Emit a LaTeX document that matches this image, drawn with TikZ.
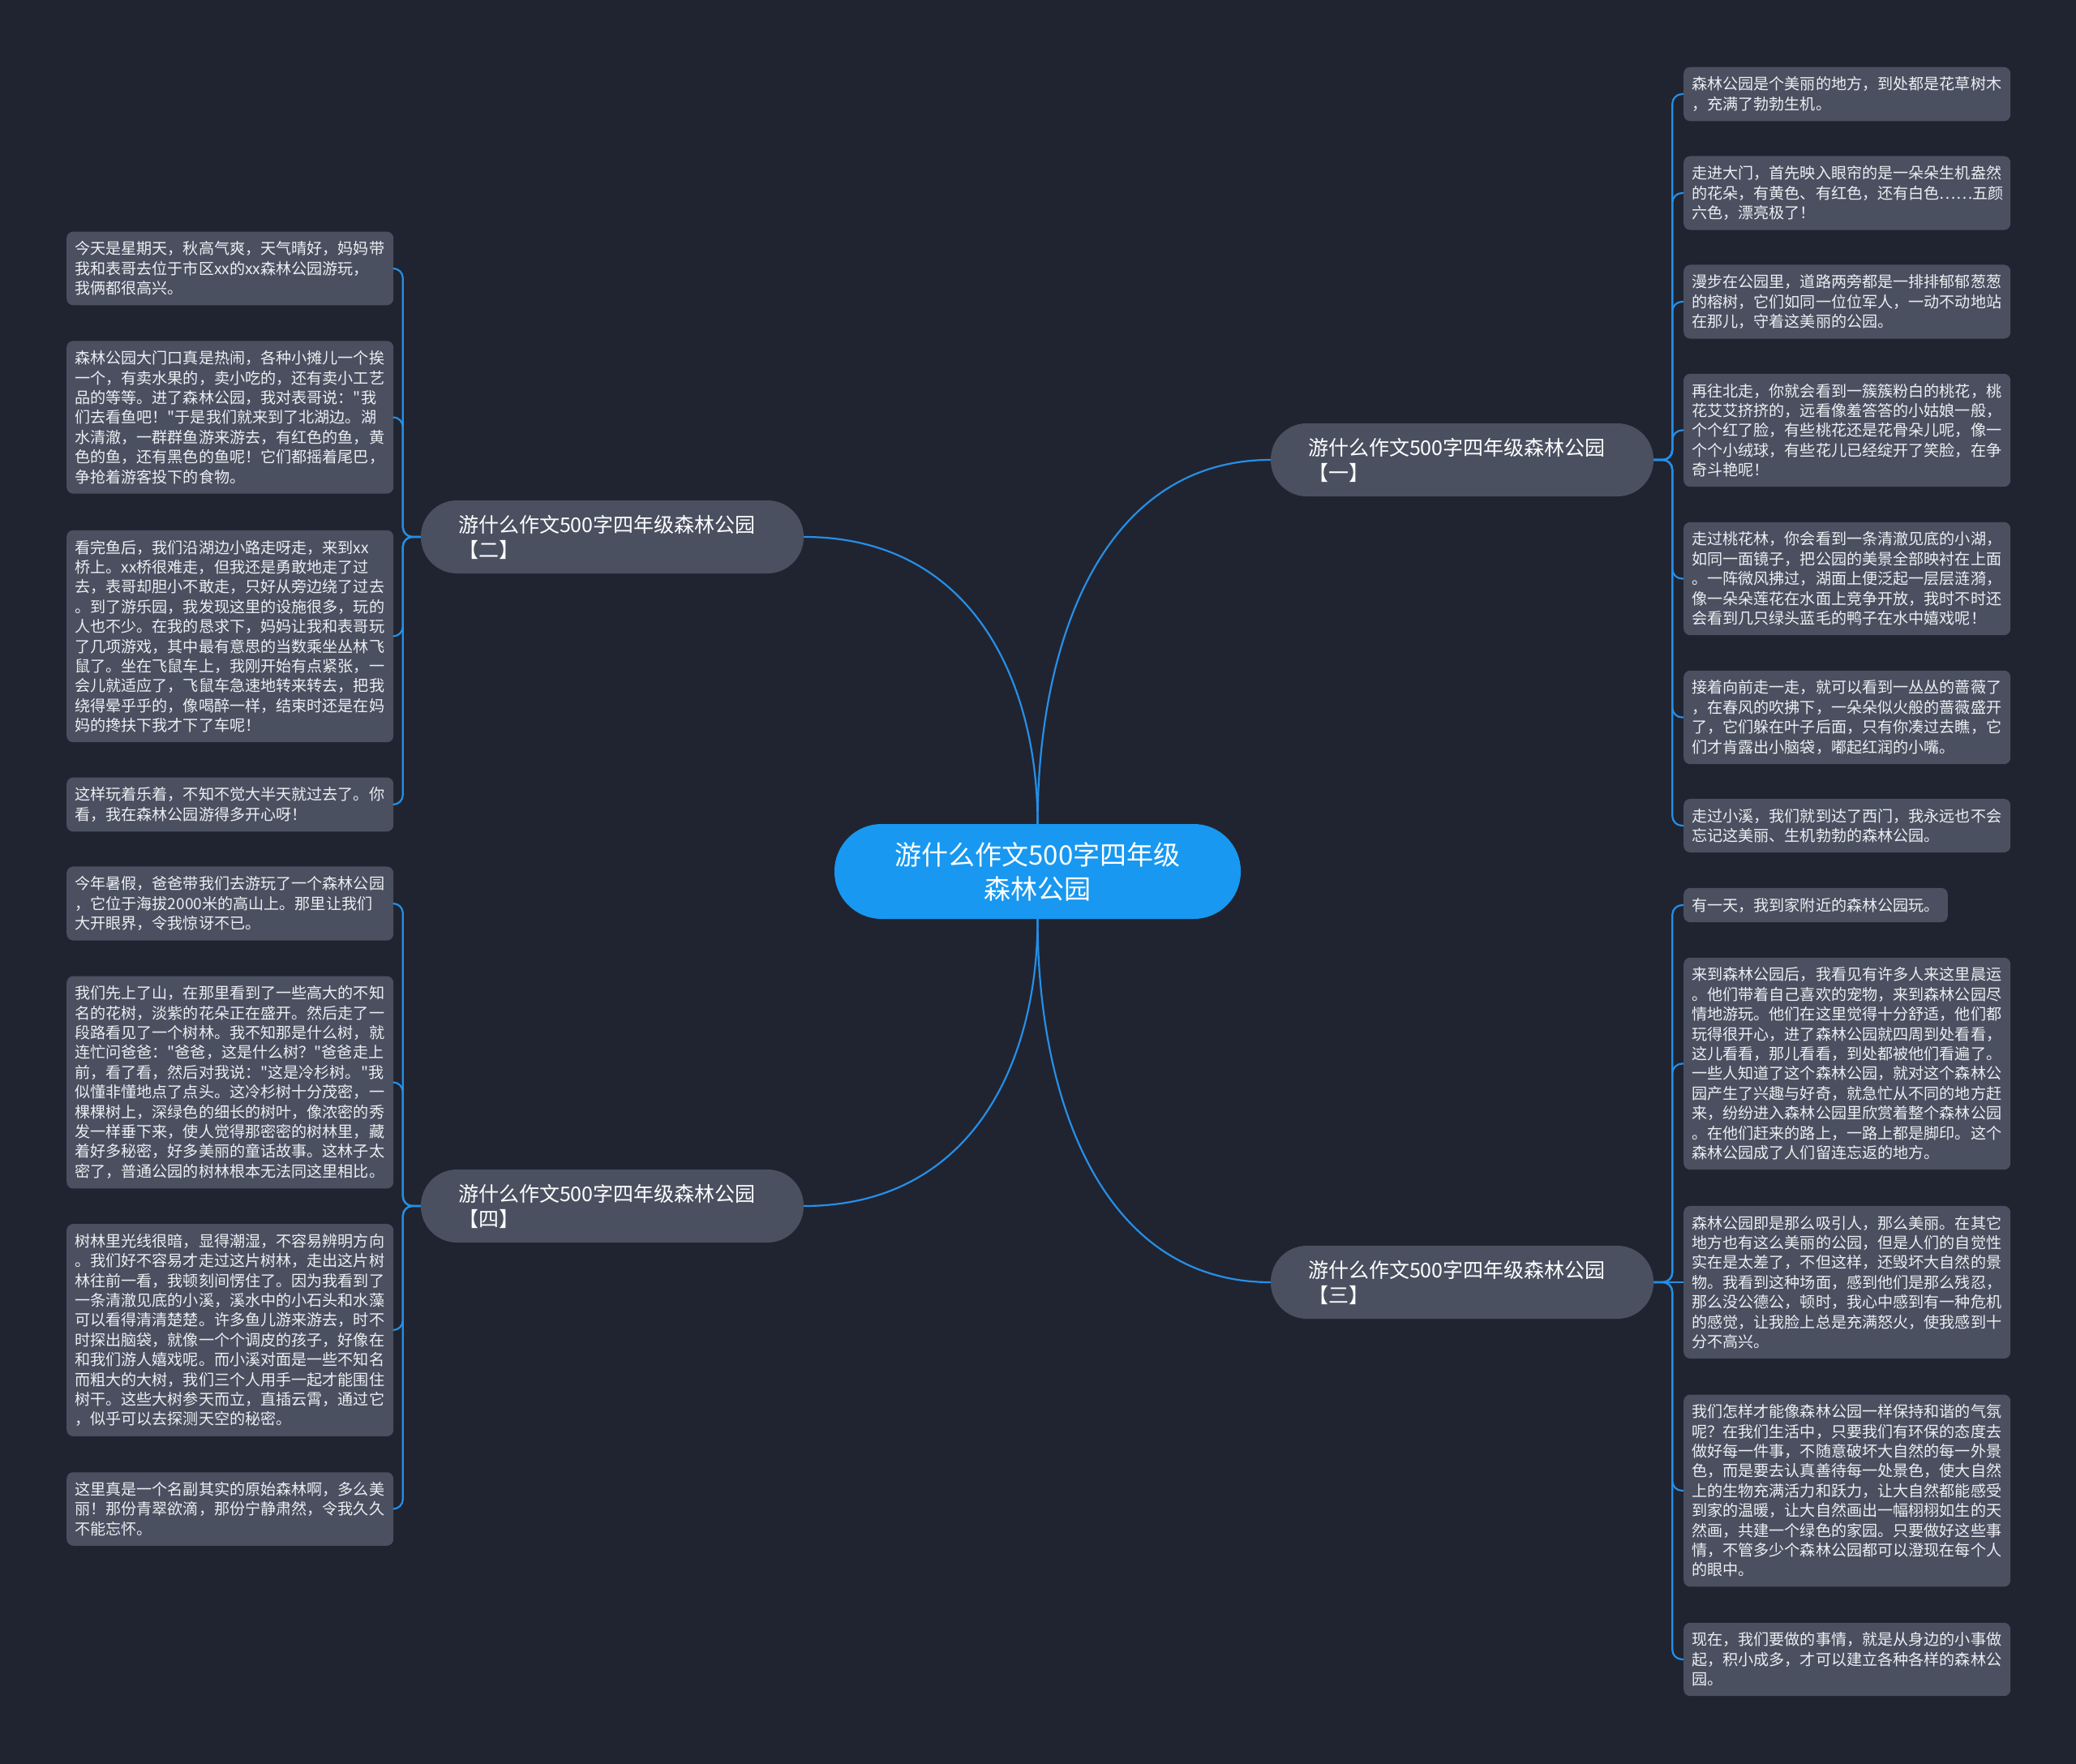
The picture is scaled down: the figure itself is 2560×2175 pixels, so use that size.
\documentclass[tikz,border=0pt]{standalone}
\usepackage{fontspec}
\setmainfont{Noto Sans CJK SC}[Ligatures=TeXOff]
\definecolor{bgc}{RGB}{32,36,49}
\definecolor{leafc}{RGB}{74,80,96}
\definecolor{linec}{RGB}{38,143,230}
\definecolor{rootc}{RGB}{24,152,240}
\definecolor{txtc}{RGB}{236,238,242}
\tikzset{
  leaf/.style={fill=leafc, rounded corners=8pt, inner xsep=10pt, inner ysep=12pt, text=txtc, align=left, text width=383pt, anchor=west, font=\fontsize{19.1pt}{24.4pt}\selectfont},
  shortleaf/.style={fill=leafc, rounded corners=8pt, inner xsep=10pt, inner ysep=12pt, text=txtc, align=left, anchor=west, font=\fontsize{19.1pt}{24.4pt}\selectfont},
  branch/.style={fill=leafc, rounded corners=44.5pt, minimum height=90pt, text width=380pt, inner xsep=46pt, inner ysep=0pt, align=left, text=white, font=\fontsize{25pt}{31pt}\selectfont},
  rootnode/.style={fill=rootc, rounded corners=58pt, minimum width=501pt, minimum height=117pt, align=center, text=white, font=\fontsize{33pt}{42pt}\selectfont},
  conn/.style={draw=linec, line width=2.2pt},
  elbow/.style={draw=linec, line width=2.2pt, rounded corners=12pt}
}
\begin{document}
\begin{tikzpicture}[x=1pt,y=-1pt]
\fill[bgc] (0,0) rectangle (2560,2175);
\useasboundingbox (0,0) rectangle (2560,2175);

% root
\node[rootnode] (root) at (1279.5,1074.5) {游什么作文500字四年级\\森林公园};

% branches
\node[branch] (b1) at (1803,567) {游什么作文500字四年级森林公园\\【一】};
\node[branch] (b2) at (755,662) {游什么作文500字四年级森林公园\\【二】};
\node[branch] (b3) at (1803,1581) {游什么作文500字四年级森林公园\\【三】};
\node[branch] (b4) at (755,1487) {游什么作文500字四年级森林公园\\【四】};

% right leaves, branch one
\node[leaf] (r1) at (2076,116) {森林公园是个美丽的地方，到处都是花草树木\\，充满了勃勃生机。};
\node[leaf] (r2) at (2076,238) {走进大门，首先映入眼帘的是一朵朵生机盎然\\的花朵，有黄色、有红色，还有白色……五颜\\六色，漂亮极了！};
\node[leaf] (r3) at (2076,372) {漫步在公园里，道路两旁都是一排排郁郁葱葱\\的榕树，它们如同一位位军人，一动不动地站\\在那儿，守着这美丽的公园。};
\node[leaf] (r4) at (2076,530.5) {再往北走，你就会看到一簇簇粉白的桃花，桃\\花艾艾挤挤的，远看像羞答答的小姑娘一般，\\个个红了脸，有些桃花还是花骨朵儿呢，像一\\个个小绒球，有些花儿已经绽开了笑脸，在争\\奇斗艳呢！};
\node[leaf] (r5) at (2076,713.5) {走过桃花林，你会看到一条清澈见底的小湖，\\如同一面镜子，把公园的美景全部映衬在上面\\。一阵微风拂过，湖面上便泛起一层层涟漪，\\像一朵朵莲花在水面上竞争开放，我时不时还\\会看到几只绿头蓝毛的鸭子在水中嬉戏呢！};
\node[leaf] (r6) at (2076,884.5) {接着向前走一走，就可以看到一丛丛的蔷薇了\\，在春风的吹拂下，一朵朵似火般的蔷薇盛开\\了，它们躲在叶子后面，只有你凑过去瞧，它\\们才肯露出小脑袋，嘟起红润的小嘴。};
\node[leaf] (r7) at (2076,1018) {走过小溪，我们就到达了西门，我永远也不会\\忘记这美丽、生机勃勃的森林公园。};

% right leaves, branch three
\node[shortleaf] (r8) at (2076,1116) {有一天，我到家附近的森林公园玩。};
\node[leaf] (r9) at (2076,1311.5) {来到森林公园后，我看见有许多人来这里晨运\\。他们带着自己喜欢的宠物，来到森林公园尽\\情地游玩。他们在这里觉得十分舒适，他们都\\玩得很开心，进了森林公园就四周到处看看，\\这儿看看，那儿看看，到处都被他们看遍了。\\一些人知道了这个森林公园，就对这个森林公\\园产生了兴趣与好奇，就急忙从不同的地方赶\\来，纷纷进入森林公园里欣赏着整个森林公园\\。在他们赶来的路上，一路上都是脚印。这个\\森林公园成了人们留连忘返的地方。};
\node[leaf] (r10) at (2076,1581) {森林公园即是那么吸引人，那么美丽。在其它\\地方也有这么美丽的公园，但是人们的自觉性\\实在是太差了，不但这样，还毁坏大自然的景\\物。我看到这种场面，感到他们是那么残忍，\\那么没公德公，顿时，我心中感到有一种危机\\的感觉，让我脸上总是充满怒火，使我感到十\\分不高兴。};
\node[leaf] (r11) at (2076,1838) {我们怎样才能像森林公园一样保持和谐的气氛\\呢？在我们生活中，只要我们有环保的态度去\\做好每一件事，不随意破坏大自然的每一外景\\色，而是要去认真善待每一处景色，使大自然\\上的生物充满活力和跃力，让大自然都能感受\\到家的温暖，让大自然画出一幅栩栩如生的天\\然画，共建一个绿色的家园。只要做好这些事\\情，不管多少个森林公园都可以澄现在每个人\\的眼中。};
\node[leaf] (r12) at (2076,2046) {现在，我们要做的事情，就是从身边的小事做\\起，积小成多，才可以建立各种各样的森林公\\园。};

% left leaves, branch two
\node[leaf] (l1) at (82,331) {今天是星期天，秋高气爽，天气晴好，妈妈带\\我和表哥去位于市区xx的xx森林公园游玩，\\我俩都很高兴。};
\node[leaf] (l2) at (82,514.5) {森林公园大门口真是热闹，各种小摊儿一个挨\\一个，有卖水果的，卖小吃的，还有卖小工艺\\品的等等。进了森林公园，我对表哥说："我\\们去看鱼吧！"于是我们就来到了北湖边。湖\\水清澈，一群群鱼游来游去，有红色的鱼，黄\\色的鱼，还有黑色的鱼呢！它们都摇着尾巴，\\争抢着游客投下的食物。};
\node[leaf] (l3) at (82,784.5) {看完鱼后，我们沿湖边小路走呀走，来到xx\\桥上。xx桥很难走，但我还是勇敢地走了过\\去，表哥却胆小不敢走，只好从旁边绕了过去\\。到了游乐园，我发现这里的设施很多，玩的\\人也不少。在我的恳求下，妈妈让我和表哥玩\\了几项游戏，其中最有意思的当数乘坐丛林飞\\鼠了。坐在飞鼠车上，我刚开始有点紧张，一\\会儿就适应了，飞鼠车急速地转来转去，把我\\绕得晕乎乎的，像喝醉一样，结束时还是在妈\\妈的搀扶下我才下了车呢！};
\node[leaf] (l4) at (82,992) {这样玩着乐着，不知不觉大半天就过去了。你\\看，我在森林公园游得多开心呀！};

% left leaves, branch four
\node[leaf] (l5) at (82,1114) {今年暑假，爸爸带我们去游玩了一个森林公园\\，它位于海拔2000米的高山上。那里让我们\\大开眼界，令我惊讶不已。};
\node[leaf] (l6) at (82,1334.5) {我们先上了山，在那里看到了一些高大的不知\\名的花树，淡紫的花朵正在盛开。然后走了一\\段路看见了一个树林。我不知那是什么树，就\\连忙问爸爸："爸爸，这是什么树？"爸爸走上\\前，看了看，然后对我说："这是冷杉树。"我\\似懂非懂地点了点头。这冷杉树十分茂密，一\\棵棵树上，深绿色的细长的树叶，像浓密的秀\\发一样垂下来，使人觉得那密密的树林里，藏\\着好多秘密，好多美丽的童话故事。这林子太\\密了，普通公园的树林根本无法同这里相比。};
\node[leaf] (l7) at (82,1640) {树林里光线很暗，显得潮湿，不容易辨明方向\\。我们好不容易才走过这片树林，走出这片树\\林往前一看，我顿刻间愣住了。因为我看到了\\一条清澈见底的小溪，溪水中的小石头和水藻\\可以看得清清楚楚。许多鱼儿游来游去，时不\\时探出脑袋，就像一个个调皮的孩子，好像在\\和我们游人嬉戏呢。而小溪对面是一些不知名\\而粗大的大树，我们三个人用手一起才能围住\\树干。这些大树参天而立，直插云霄，通过它\\，似乎可以去探测天空的秘密。};
\node[leaf] (l8) at (82,1860.5) {这里真是一个名副其实的原始森林啊，多么美\\丽！那份青翠欲滴，那份宁静肃然，令我久久\\不能忘怀。};

% root to branches
\draw[conn] (root.north) .. controls +(0,-224.5) and +(-207,0) .. (b1.west);
\draw[conn] (root.north) .. controls +(0,-177) and +(207,0) .. (b2.east);
\draw[conn] (root.south) .. controls +(0,224) and +(-207,0) .. (b3.west);
\draw[conn] (root.south) .. controls +(0,177) and +(207,0) .. (b4.east);

% branch one to leaves
\foreach \n in {r1,r2,r3,r4,r5,r6,r7}{
  \draw[elbow] (b1.east) -- ++(23,0) |- (\n.west);
}
% branch three to leaves
\foreach \n in {r8,r9,r11,r12}{
  \draw[elbow] (b3.east) -- ++(23,0) |- (\n.west);
}
\draw[conn] (b3.east) -- (r10.west);
% branch two to leaves
\foreach \n in {l1,l2,l3,l4}{
  \draw[elbow] (b2.west) -- ++(-22,0) |- (\n.east);
}
% branch four to leaves
\foreach \n in {l5,l6,l7,l8}{
  \draw[elbow] (b4.west) -- ++(-22,0) |- (\n.east);
}
\end{tikzpicture}
\end{document}
